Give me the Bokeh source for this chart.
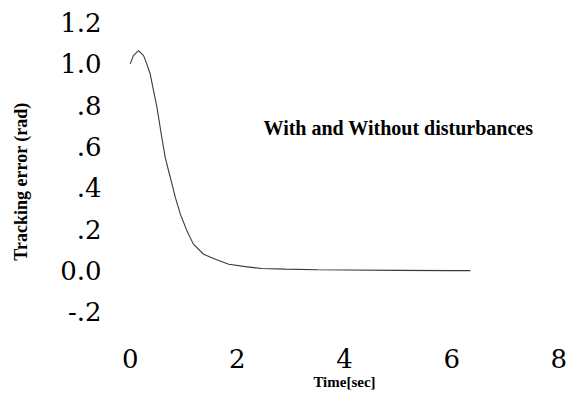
from bokeh.plotting import figure
from bokeh.models import Range1d, FixedTicker, Label
from bokeh.embed import file_html
from bokeh.resources import INLINE

# Data
time_sec = [0.0, 0.06, 0.155, 0.25, 0.31, 0.374, 0.436, 0.50, 0.53, 0.59, 0.654,
            0.716, 0.78, 0.841, 0.935, 1.06, 1.18, 1.37, 1.59, 1.84, 2.15, 2.46,
            2.90, 3.5, 4.0, 5.0, 6.0, 6.35]
tracking_error = [1.0, 1.040, 1.064, 1.040, 1.000, 0.951, 0.871, 0.790, 0.741,
                  0.644, 0.548, 0.483, 0.419, 0.355, 0.274, 0.192, 0.128, 0.079,
                  0.055, 0.031, 0.019, 0.010, 0.007, 0.004, 0.003, 0.001, 0.0, 0.0]

x_ticks = [0, 2, 4, 6, 8]
y_ticks = [-0.2, 0.0, 0.2, 0.4, 0.6, 0.8, 1.0, 1.2]
y_tick_labels = ["-.2", "0.0", ".2", ".4", ".6", ".8", "1.0", "1.2"]
x_title = "Time[sec]"
y_title = "Tracking error (rad)"
annotation_text = "With and Without disturbances"

p = figure(width=568, height=394, output_backend="svg", toolbar_location=None,
           x_range=Range1d(-0.05, 8.05), y_range=Range1d(-0.348, 1.21),
           min_border_left=127, min_border_right=7, min_border_top=20,
           min_border_bottom=52)
p.outline_line_color = None
p.grid.visible = False
p.background_fill_color = "white"
p.border_fill_color = "white"

p.line(time_sec, tracking_error, line_color="#3a3a3a", line_width=1.1)

for ax in (p.xaxis[0], p.yaxis[0]):
    ax.axis_line_color = None
    ax.major_tick_line_color = None
    ax.minor_tick_line_color = None
    ax.major_label_text_font = "DejaVu Serif"
    ax.major_label_text_font_size = "26px"
    ax.major_label_text_color = "black"
    ax.axis_label_text_font = "Liberation Serif"
    ax.axis_label_text_font_style = "bold"
    ax.axis_label_text_color = "black"

p.xaxis.ticker = FixedTicker(ticks=x_ticks)
p.xaxis.major_label_standoff = 0
p.xaxis.axis_label = x_title
p.xaxis.axis_label_text_font_size = "15px"
p.xaxis.axis_label_standoff = 3

p.yaxis.ticker = FixedTicker(ticks=y_ticks)
p.yaxis.major_label_overrides = {t: s for t, s in zip(y_ticks, y_tick_labels)}
p.yaxis.major_label_standoff = 20
p.yaxis.axis_label = y_title
p.yaxis.axis_label_text_font_size = "18px"
p.yaxis.axis_label_standoff = 26

p.add_layout(Label(x=2.488, y=0.692, text=annotation_text,
                   text_font="Liberation Serif", text_font_style="bold",
                   text_font_size="20px", text_color="black",
                   text_baseline="middle", text_align="left"))

open("out.html", "w").write(file_html(p, INLINE))
